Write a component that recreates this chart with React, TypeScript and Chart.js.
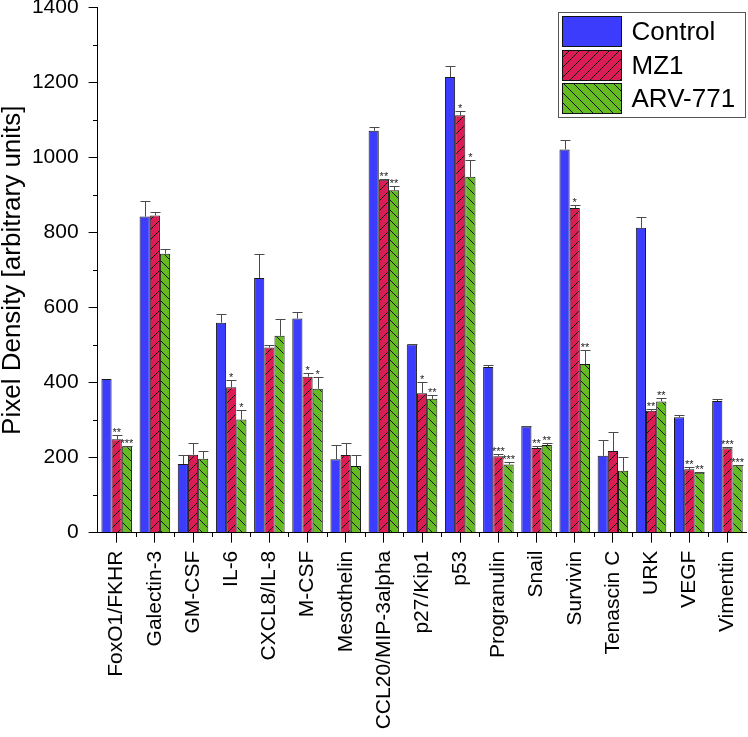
import React, { useEffect, useRef } from 'react';
import { Chart, registerables } from 'chart.js';

Chart.register(...registerables);

const categories = [
  'FoxO1/FKHR', 'Galectin-3', 'GM-CSF', 'IL-6', 'CXCL8/IL-8', 'M-CSF', 'Mesothelin',
  'CCL20/MIP-3alpha', 'p27/Kip1', 'p53', 'Progranulin', 'Snail', 'Survivin',
  'Tenascin C', 'URK', 'VEGF', 'Vimentin',
];
const seriesNames = ['Control', 'MZ1', 'ARV-771'];

const controlValues = [410, 843, 183, 560, 679, 571, 196, 1072, 502, 1215, 442, 283, 1022, 205, 813, 308, 351];
const mz1Values = [249, 846, 208, 388, 494, 416, 207, 941, 372, 1113, 204, 226, 866, 218, 325, 169, 225];
const arvValues = [230, 744, 197, 302, 525, 384, 178, 913, 357, 949, 182, 234, 450, 165, 350, 160, 180];

const controlErrors = [0, 42, 23, 23, 63, 17, 37, 11, 1, 30, 6, 1, 24, 42, 30, 5, 5];
const mz1Errors = [11, 9, 32, 19, 7, 11, 31, 3, 29, 11, 6, 6, 7, 50, 6, 7, 3];
const arvErrors = [2, 13, 20, 25, 44, 32, 30, 12, 9, 45, 6, 4, 36, 36, 8, 1, 1];

const controlStars = ['', '', '', '', '', '', '', '', '', '', '', '', '', '', '', '', ''];
const mz1Stars = ['**', '', '', '*', '', '*', '', '**', '*', '*', '***', '**', '*', '', '**', '**', '***'];
const arvStars = ['***', '', '', '*', '', '*', '', '**', '**', '*', '***', '**', '**', '', '**', '**', '***'];

const yMin = 0;
const yMax = 1400;
const yStep = 200;
const yTitle = 'Pixel Density [arbitrary units]';

const FONT = '"Liberation Sans", Arial, sans-serif';
const BLUE = '#3c3cfc';
const RED = '#dc1c55';
const GREEN = '#64bb22';

function makePattern(color: string, dir: 'fwd' | 'back'): CanvasPattern | string {
  const c = document.createElement('canvas');
  const s = 10;
  c.width = s;
  c.height = s;
  const g = c.getContext('2d');
  if (!g) return color;
  g.fillStyle = color;
  g.fillRect(0, 0, s, s);
  g.strokeStyle = '#111';
  g.lineWidth = 1;
  g.beginPath();
  if (dir === 'fwd') {
    for (let k = -1; k <= 1; k++) {
      g.moveTo(k * s, s);
      g.lineTo(k * s + s, 0);
    }
  } else {
    for (let k = -1; k <= 1; k++) {
      g.moveTo(k * s, 0);
      g.lineTo(k * s + s, s);
    }
  }
  g.stroke();
  const p = g.createPattern(c, 'repeat');
  return p || color;
}

const errorPlugin = {
  id: 'errorBars',
  afterDatasetsDraw(chart: any) {
    const ctx = chart.ctx;
    const ys = chart.scales.y;
    chart.data.datasets.forEach((ds: any, i: number) => {
      const meta = chart.getDatasetMeta(i);
      meta.data.forEach((el: any, j: number) => {
        const v = ds.data[j];
        const e = ds.errors[j];
        const top = ys.getPixelForValue(v + e);
        const x = Math.round(el.x) + 0.5;
        ctx.save();
        if (e > 0) {
          const ty = Math.round(top) + 0.5;
          ctx.strokeStyle = '#4a4a4a';
          ctx.lineWidth = 1;
          ctx.beginPath();
          ctx.moveTo(x, el.y);
          ctx.lineTo(x, ty);
          ctx.moveTo(x - 5, ty);
          ctx.lineTo(x + 5, ty);
          ctx.stroke();
        }
        const star = ds.stars[j];
        if (star) {
          ctx.fillStyle = '#222';
          ctx.font = '11px ' + FONT;
          ctx.textAlign = 'center';
          ctx.textBaseline = 'alphabetic';
          ctx.fillText(star, el.x, top + 1);
        }
        ctx.restore();
      });
    });
  },
};

const decorPlugin = {
  id: 'decor',
  afterDraw(chart: any) {
    const ctx = chart.ctx;
    const area = chart.chartArea;
    const ys = chart.scales.y;
    ctx.save();
    ctx.strokeStyle = '#000';
    ctx.lineWidth = 1;
    ctx.beginPath();
    // minor y ticks
    for (let v = yMin + yStep / 2; v < yMax; v += yStep) {
      const py = Math.round(ys.getPixelForValue(v)) + 0.5;
      ctx.moveTo(Math.round(area.left) - 5, py);
      ctx.lineTo(Math.round(area.left), py);
    }
    // minor x ticks at category boundaries
    const n = categories.length;
    const w = (area.right - area.left) / n;
    for (let i = 1; i < n; i++) {
      const px = Math.round(area.left + i * w) + 0.5;
      ctx.moveTo(px, Math.round(area.bottom));
      ctx.lineTo(px, Math.round(area.bottom) + 4);
    }
    ctx.stroke();

    // legend
    const bw = 187;
    const bh = 105;
    const bx = Math.round(area.right - 1.5 - bw) + 0.5;
    const by = Math.round(area.top + 4) + 0.5;
    ctx.strokeStyle = '#555';
    ctx.strokeRect(bx, by, bw, bh);
    const fills = chart.data.datasets.map((d: any) => d.backgroundColor);
    const rowY = [4, 38, 71];
    ctx.font = '26px ' + FONT;
    ctx.textAlign = 'left';
    ctx.textBaseline = 'middle';
    seriesNames.forEach((name, i) => {
      const sx = bx + 4;
      const sy = by + rowY[i];
      ctx.fillStyle = fills[i];
      ctx.fillRect(sx, sy, 59, 30);
      ctx.strokeStyle = '#111';
      ctx.strokeRect(sx, sy, 59, 30);
      ctx.fillStyle = '#000';
      ctx.fillText(name, bx + 73, sy + 16);
    });
    ctx.restore();
  },
};

export default function App() {
  const ref = useRef<HTMLCanvasElement | null>(null);

  useEffect(() => {
    document.body.style.margin = '0';
    const canvas = ref.current;
    if (!canvas) return;
    const chart = new Chart(canvas, {
      type: 'bar',
      data: {
        labels: categories,
        datasets: [
          {
            label: seriesNames[0],
            data: controlValues,
            errors: controlErrors,
            stars: controlStars,
            backgroundColor: BLUE,
            borderColor: '#1a1a1a',
            borderWidth: 1,
          } as any,
          {
            label: seriesNames[1],
            data: mz1Values,
            errors: mz1Errors,
            stars: mz1Stars,
            backgroundColor: makePattern(RED, 'fwd'),
            borderColor: '#1a1a1a',
            borderWidth: 1,
          } as any,
          {
            label: seriesNames[2],
            data: arvValues,
            errors: arvErrors,
            stars: arvStars,
            backgroundColor: makePattern(GREEN, 'back'),
            borderColor: '#1a1a1a',
            borderWidth: 1,
          } as any,
        ],
      },
      options: {
        responsive: false,
        animation: false,
        devicePixelRatio: 1,
        layout: { padding: { left: 0, top: 7.7, right: 1.5, bottom: 0 } },
        datasets: { bar: { categoryPercentage: 0.8, barPercentage: 1 } },
        plugins: {
          legend: { display: false },
          tooltip: { enabled: false },
        },
        scales: {
          x: {
            grid: {
              display: true,
              drawOnChartArea: false,
              drawTicks: true,
              tickLength: 10,
              offset: false,
              color: '#000',
            },
            border: { display: true, color: '#000', width: 1 },
            ticks: {
              autoSkip: false,
              maxRotation: 90,
              minRotation: 90,
              padding: 8,
              color: '#000',
              font: { family: FONT, size: 21 },
            },
            afterFit(scale: any) {
              scale.height = 204.3;
              scale.paddingLeft = 0;
              scale.paddingRight = 0;
            },
          },
          y: {
            min: yMin,
            max: yMax,
            grid: {
              display: true,
              drawOnChartArea: false,
              drawTicks: true,
              tickLength: 9,
              color: '#000',
            },
            border: { display: true, color: '#000', width: 1 },
            ticks: {
              stepSize: yStep,
              padding: 10,
              color: '#000',
              font: { family: FONT, size: 21 },
              callback: (v: any) => String(v),
            },
            title: {
              display: true,
              text: yTitle,
              color: '#000',
              font: { family: FONT, size: 26, lineHeight: 1 },
              padding: { top: 0, bottom: 0 },
            },
            afterFit(scale: any) {
              scale.width = 97.6;
              scale.paddingTop = 0;
              scale.paddingBottom = 0;
            },
          },
        },
      },
      plugins: [errorPlugin, decorPlugin],
    } as any);
    return () => chart.destroy();
  }, []);

  return (
    <div style={{ width: 748, height: 737 }}>
      <canvas ref={ref} width={748} height={737} style={{ display: 'block' }} />
    </div>
  );
}
